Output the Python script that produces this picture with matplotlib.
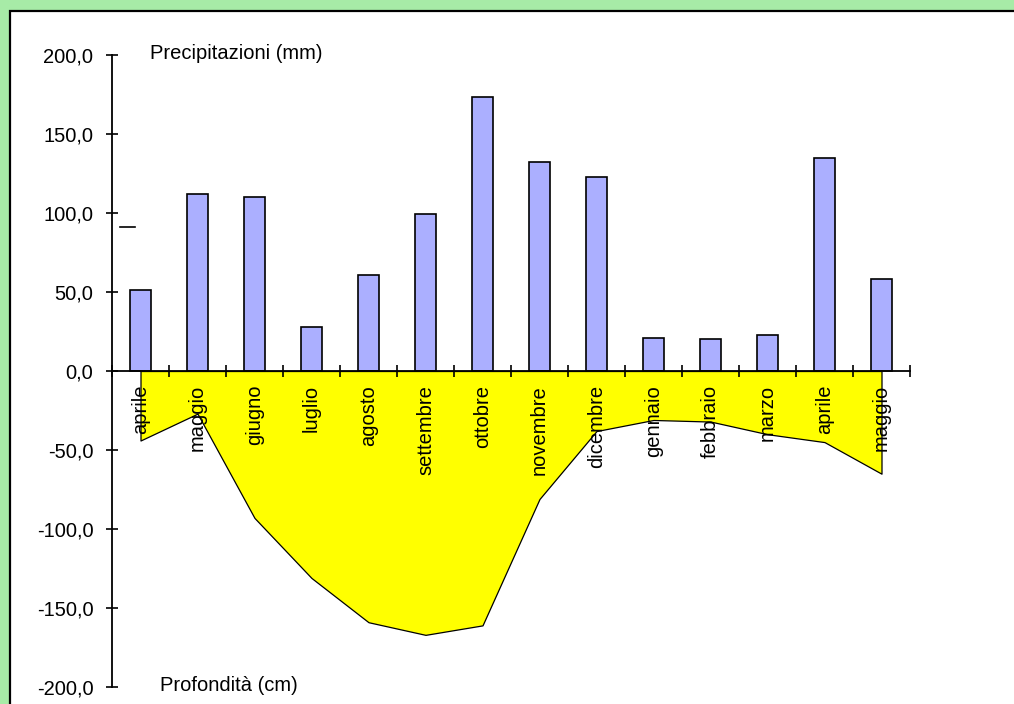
import numpy as np
import matplotlib.pyplot as plt
from matplotlib.patches import Rectangle
from matplotlib.ticker import FuncFormatter

mesi = ['aprile', 'maggio', 'giugno', 'luglio', 'agosto', 'settembre', 'ottobre',
        'novembre', 'dicembre', 'gennaio', 'febbraio', 'marzo', 'aprile', 'maggio']
precipitazioni = [51.5, 112.0, 110.0, 28.0, 61.0, 99.5, 173.5,
                  132.5, 123.0, 21.0, 20.0, 23.0, 134.5, 58.0]
profondita = [-44, -27, -93, -131, -159, -167, -161,
              -81, -38, -31, -32, -40, -45, -65]

plt.rcParams['font.family'] = ['Liberation Sans', 'DejaVu Sans']
fs = 14.5

fig = plt.figure(figsize=(10.14, 7.04), dpi=100)
fig.patch.set_facecolor('#A7EBA7')
fig.patches.append(Rectangle((10 / 1014, -0.1), 1.2, 1.1 - 11 / 704,
                             transform=fig.transFigure, facecolor='white',
                             edgecolor='black', linewidth=1.6, zorder=-10))

ax = fig.add_axes([112 / 1014, 1 - 687 / 704, 798 / 1014, 632 / 704])
ax.patch.set_alpha(0)

x = np.arange(len(mesi))
ax.fill_between(x, profondita, 0, facecolor='#FFFF00', edgecolor='black', linewidth=0.9)
ax.bar(x, precipitazioni, width=0.375, color='#ABAFFF', edgecolor='black', linewidth=1.2)

ax.set_xlim(-0.5, 13.5)
ax.set_ylim(-200, 200)

for s in ['top', 'right']:
    ax.spines[s].set_visible(False)
ax.spines['bottom'].set_position(('data', 0))
ax.spines['left'].set_linewidth(1.3)
ax.spines['bottom'].set_linewidth(1.3)
ax.set_axisbelow(False)

ax.set_yticks(np.arange(-200, 201, 50))
ax.yaxis.set_major_formatter(FuncFormatter(lambda v, p: f'{v:.1f}'.replace('.', ',')))
ax.tick_params(axis='y', direction='inout', length=9, width=1.2, pad=9, labelsize=fs)

ax.set_xticks(x)
ax.set_xticklabels(mesi, rotation=90)
ax.tick_params(axis='x', which='major', length=0, pad=10, labelsize=fs)
ax.set_xticks(np.arange(-0.5, 14, 1), minor=True)
ax.tick_params(axis='x', which='minor', direction='inout', length=9, width=1.2)

ax.text(0.0476, 1.003, 'Precipitazioni (mm)', transform=ax.transAxes,
        fontsize=fs, va='center', ha='left')
ax.text(0.060, 0.002, 'Profondità (cm)', transform=ax.transAxes,
        fontsize=fs, va='center', ha='left')

# piccolo trattino a sinistra
ax.plot([-0.36, -0.1], [91, 91], color='black', linewidth=1.2, clip_on=False)

fig.savefig('out.png', dpi=100, facecolor=fig.get_facecolor())
